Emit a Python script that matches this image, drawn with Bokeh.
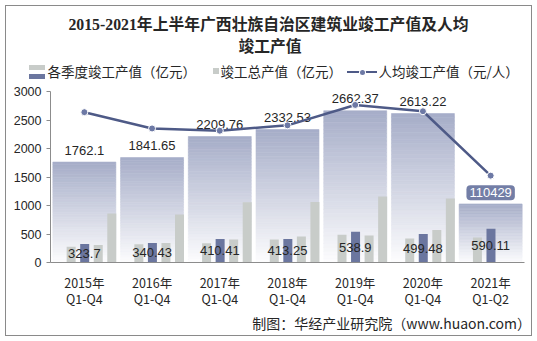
import numpy as np
from bokeh.plotting import figure
from bokeh.layouts import column, row
from bokeh.models import Range1d, FixedTicker, Div
from bokeh.core.properties import value
from bokeh.embed import file_html
from bokeh.resources import INLINE

# ---------------- data ----------------
categories = ["2015年\nQ1-Q4", "2016年\nQ1-Q4", "2017年\nQ1-Q4", "2018年\nQ1-Q4",
              "2019年\nQ1-Q4", "2020年\nQ1-Q4", "2021年\nQ1-Q2"]
total = [1762.1, 1841.65, 2209.76, 2332.53, 2662.37, 2613.22, 1027.0]   # 竣工总产值（亿元）
total_labels = ["1762.1", "1841.65", "2209.76", "2332.53", "2662.37", "2613.22"]
q1 = [275, 320, 337, 405, 488, 420, 437]                                   # 各季度竣工产值（亿元）
q2 = [323.7, 340.43, 410.41, 413.25, 538.9, 499.48, 590.11]
q3 = [305, 340, 405, 454, 475, 572, np.nan]
q4 = [858, 841, 1057, 1060, 1160, 1122, np.nan]
q2_labels = ["323.7", "340.43", "410.41", "413.25", "538.9", "499.48", "590.11"]
per_capita = [191100, 170400, 167500, 174400, 200300, 192300, 110429]     # 人均竣工产值（元/人）
per_capita_label = "110429"
y_ticks = [0, 500, 1000, 1500, 2000, 2500, 3000]

title_lines = ["2015-2021年上半年广西壮族自治区建筑业竣工产值及人均", "竣工产值"]
legend_labels = ["各季度竣工产值（亿元）", "竣工总产值（亿元）", "人均竣工产值（元/人）"]
source_text = "制图：华经产业研究院（www.huaon.com）"

# ---------------- style ----------------
CJK = "Noto Sans CJK SC"
NUM = "Liberation Sans, Noto Sans CJK SC"
TXT = "#262626"
BLUE = "#6b769f"
GRAY = "#c8ccc9"
LINE = "#4e5a87"
DOT = "#6d79a5"
EDGE = "#8a8a8a"
W_ALL = 537
H_HEAD, H_MAIN, H_FOOT = 84, 226, 31
SIDE = 6


def box_css(l, t, w, h, color, extra=""):
    return (f'<div style="position:absolute;left:{l}px;top:{t}px;width:{w}px;height:{h}px;'
            f'background:{color};{extra}"></div>')


def text_css(txt, l, t, size, tx="0", weight="normal", font=CJK, anchor="left"):
    pos = f"left:{l}px;" if anchor == "left" else f"right:{l}px;"
    return (f'<div style="position:absolute;{pos}top:{t}px;transform:translate({tx},-50%);'
            f'white-space:nowrap;line-height:1;font-family:{font};font-size:{size};'
            f'font-weight:{weight};color:{TXT};">{txt}</div>')


def wrap(inner, w, h):
    return (f'<div style="position:relative;width:{w}px;height:{h}px;overflow:hidden;'
            f'background:white;margin:0;padding:0;">{inner}</div>')

# ---------------- header (title + legend) ----------------
TITLE_FONT = "'Liberation Serif','Noto Sans CJK SC'"
head_html = "".join([
    box_css(5, 5, 527, 1, EDGE),
    box_css(5, 5, 1, H_HEAD - 5, EDGE),
    box_css(531, 5, 1, H_HEAD - 5, EDGE),
    text_css(title_lines[0], 268.5, 25, "15.8px", "-50%", "bold", TITLE_FONT),
    text_css(title_lines[1], 270, 47, "15.8px", "-50%", "bold", TITLE_FONT),
    box_css(29, 65, 16, 4.5, GRAY),
    box_css(29, 74, 16, 5, BLUE),
    text_css(legend_labels[0], 47.5, 72, "13.5px"),
    box_css(213, 68, 6, 5.5, GRAY),
    text_css(legend_labels[1], 220.5, 72, "13.5px"),
    box_css(347, 71, 30, 2, LINE),
    box_css(359.5, 69.5, 5, 5, DOT, "border-radius:50%;box-shadow:0 0 0 1px white;"),
    text_css(legend_labels[2], 378.5, 72, "13.5px"),
])
head = Div(text=wrap(head_html, W_ALL, H_HEAD), width=W_ALL, height=H_HEAD,
           styles={"margin": "0", "padding": "0"})

# ---------------- main chart ----------------
FRAME_TOP = 7
p = figure(width=W_ALL - 2 * SIDE, height=H_MAIN, output_backend="svg", toolbar_location=None,
           x_range=Range1d(-0.5, 6.5), y_range=Range1d(0, 3000),
           min_border_left=50 - SIDE, min_border_right=(W_ALL - 2 * SIDE) - (50 - SIDE) - 474,
           min_border_top=FRAME_TOP, min_border_bottom=H_MAIN - FRAME_TOP - 178)
p.extra_y_ranges = {"per": Range1d(0, 217400)}
p.outline_line_color = None
p.xgrid.visible = False
p.ygrid.visible = False
p.background_fill_color = "white"
p.border_fill_color = "white"

x = np.arange(len(categories), dtype=float)

# big gradient bars (total)
N = 40
top_rgb = np.array([166, 173, 200])
bot_rgb = np.array([253, 253, 254])
L, R, B, T, C = [], [], [], [], []
for i, t in enumerate(total):
    for k in range(N):
        f = (k + 0.5) / N
        c = bot_rgb + (top_rgb - bot_rgb) * f
        L.append(x[i] - 0.465)
        R.append(x[i] + 0.465)
        B.append(t * k / N)
        T.append(t * (k + 1) / N)
        C.append("#%02x%02x%02x" % tuple(int(round(v)) for v in c))
p.quad(left=L, right=R, bottom=B, top=T, fill_color=C, line_color=C, line_width=0.6)

# quarterly bars
W = 0.133
def bars(vals, off, color):
    v = np.array(vals, dtype=float)
    m = ~np.isnan(v)
    p.vbar(x=(x + off)[m], top=v[m], width=W, fill_color=color, line_color=None)

bars(q1, -0.195, GRAY)
bars(q2, 0.005, BLUE)
bars(q3, 0.205, GRAY)
bars(q4, 0.405, GRAY)

# value labels
n = len(total_labels)
p.text(x=x[:n], y=total[:n], text=total_labels, y_offset=-12,
       text_align="center", text_baseline="middle",
       text_font=value(NUM), text_font_size="13px", text_color=TXT)
p.text(x=x, y=np.array(q2) / 2, text=q2_labels,
       text_align="center", text_baseline="middle",
       text_font=value(NUM), text_font_size="13px", text_color=TXT)

# per-capita line
p.line(x, per_capita, y_range_name="per", line_color=LINE, line_width=2.5)
p.scatter(x, per_capita, y_range_name="per", size=7, fill_color=DOT,
          line_color="white", line_width=1)
p.text(x=[x[-1]], y=[per_capita[-1]], text=[per_capita_label], y_range_name="per",
       y_offset=17, text_align="center", text_baseline="middle",
       text_font=value(NUM), text_font_size="13px", text_color="white",
       background_fill_color="#737ea6", border_radius=4, padding=3)

# axes
p.xaxis.ticker = FixedTicker(ticks=list(range(len(categories))))
p.xaxis.major_label_overrides = {i: c for i, c in enumerate(categories)}
p.xaxis.major_tick_line_color = None
p.xaxis.minor_tick_line_color = None
p.xaxis.axis_line_color = "#8c8c8c"
p.xaxis.major_label_standoff = 4
p.xaxis.major_label_text_font = CJK
p.xaxis.major_label_text_font_size = "12.5px"
p.xaxis.major_label_text_line_height = 0.85
p.xaxis.major_label_text_color = TXT

p.yaxis.ticker = FixedTicker(ticks=y_ticks)
p.yaxis.major_tick_out = 4
p.yaxis.major_tick_in = 0
p.yaxis.minor_tick_line_color = None
p.yaxis.axis_line_color = "#8c8c8c"
p.yaxis.major_tick_line_color = "#8c8c8c"
p.yaxis.major_label_standoff = 5
p.yaxis.major_label_text_font = "Liberation Sans"
p.yaxis.major_label_text_font_size = "12.5px"
p.yaxis.major_label_text_color = TXT

left_strip = Div(text=wrap(box_css(5, 0, 1, H_MAIN, EDGE), SIDE, H_MAIN),
                 width=SIDE, height=H_MAIN, styles={"margin": "0", "padding": "0"})
right_strip = Div(text=wrap(box_css(0, 0, 1, H_MAIN, EDGE), SIDE, H_MAIN),
                  width=SIDE, height=H_MAIN, styles={"margin": "0", "padding": "0"})

# ---------------- footer ----------------
foot_html = "".join([
    box_css(5, 0, 1, 26, EDGE),
    box_css(531, 0, 1, 26, EDGE),
    box_css(5, 25, 527, 1, EDGE),
    text_css(source_text, W_ALL - 531, 13, "14px", anchor="right"),
])
foot = Div(text=wrap(foot_html, W_ALL, H_FOOT), width=W_ALL, height=H_FOOT,
           styles={"margin": "0", "padding": "0"})

layout = column(head, row(left_strip, p, right_strip, spacing=0), foot, spacing=0)

open("out.html", "w").write(file_html(layout, INLINE))
